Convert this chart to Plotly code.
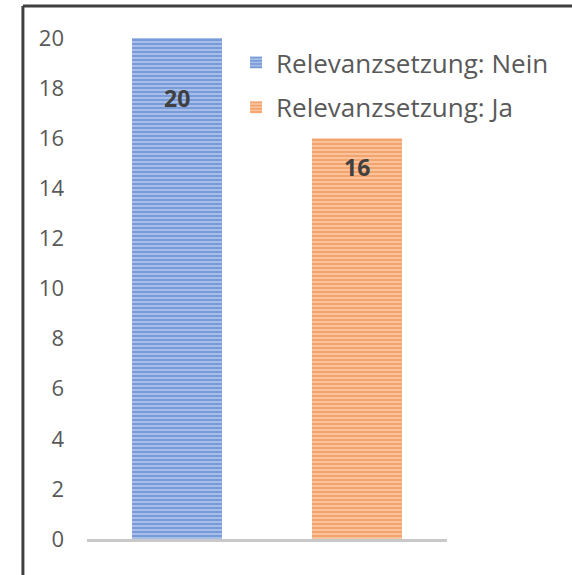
import plotly.graph_objects as go

# ── Data ────────────────────────────────────────────────────────────────────
series_names = ["Relevanzsetzung: Nein", "Relevanzsetzung: Ja"]
categories = ["Nein", "Ja"]
counts = [20, 16]

# ── Styling ────────────────────────────────────────────────────────────────
FG_COLORS = ["#4472C4", "#ED7D31"]
BG_COLORS = ["#AFC4EA", "#F9C8A6"]
LABEL_SHIFT_Y = [-60, -29]  # labels sit below the bar top, as in the original
FONT = "'Open Sans', Calibri, 'Liberation Sans', sans-serif"

fig = go.Figure()
for name, cat, val, fg, bg in zip(series_names, categories, counts, FG_COLORS, BG_COLORS):
    fig.add_trace(go.Bar(
        x=[cat],
        y=[val],
        name=name,
        legendgroup=name,
        marker=dict(
            color=bg,
            line=dict(width=0),
            pattern=dict(shape="-", fgcolor=fg, bgcolor=bg, size=4,
                         solidity=0.58, fillmode="overlay"),
        ),
        width=0.5,
    ))

for cat, val, dy in zip(categories, counts, LABEL_SHIFT_Y):
    fig.add_annotation(
        x=cat, y=val, text=f"<b>{val}</b>", showarrow=False,
        yshift=dy, font=dict(family=FONT, size=23, color="#404040"),
    )

# frame lines (top and left only)
fig.add_shape(type="line", xref="paper", yref="paper",
              x0=-0.178, x1=1.4, y0=1.064, y1=1.064,
              line=dict(color="#404040", width=3))
fig.add_shape(type="line", xref="paper", yref="paper",
              x0=-0.178, x1=-0.178, y0=-0.1, y1=1.064,
              line=dict(color="#404040", width=3))

fig.update_layout(
    width=572,
    height=575,
    margin=dict(l=87, r=125, t=38, b=36),
    plot_bgcolor="white",
    paper_bgcolor="white",
    font=dict(family=FONT, size=22, color="#595959"),
    showlegend=True,
    legend=dict(
        x=0.414, xanchor="left", y=0.998, yanchor="top",
        font=dict(family=FONT, size=26, color="#595959"),
        bgcolor="rgba(0,0,0,0)",
        traceorder="grouped", tracegroupgap=8,
    ),
    xaxis=dict(
        showticklabels=False, showgrid=False, ticks="",
        showline=True, linecolor="#C8C8C8", linewidth=3,
    ),
    yaxis=dict(
        range=[0, 20], dtick=2, showgrid=False, zeroline=False,
        showline=False, ticks="", ticklabelstandoff=22,
        tickfont=dict(family=FONT, size=22, color="#595959"),
    ),
)

fig.write_html("out.html", config={"displayModeBar": False},
               post_script="document.body.style.margin='0px';")
